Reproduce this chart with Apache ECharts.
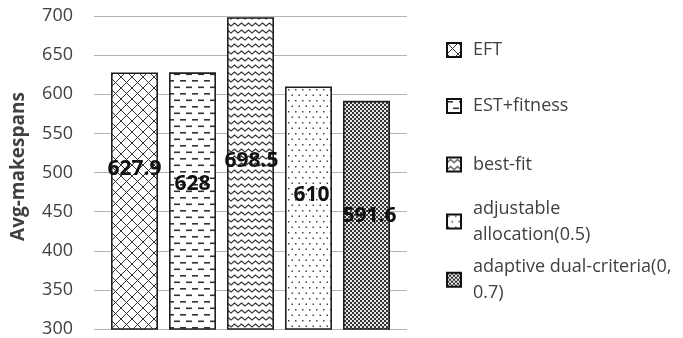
<!DOCTYPE html>
<html>
<head>
<meta charset="utf-8">
<script src="https://cdn.jsdelivr.net/npm/echarts@6/dist/echarts.min.js"></script>
<style>
  html, body { margin: 0; padding: 0; background: #fff; }
  #chart { width: 683px; height: 338px; }
</style>
</head>
<body>
<div id="chart"></div>
<script>
// Average makespan per scheduling strategy
const categories = ['EFT', 'EST+fitness', 'best-fit', 'adjustable allocation(0.5)', 'adaptive dual-criteria(0, 0.7)'];
const values = [627.9, 628, 698.5, 610, 591.6];
const legendLabels = ['EFT', 'EST+fitness', 'best-fit', 'adjustable\nallocation(0.5)', 'adaptive dual-criteria(0,\n0.7)'];
const yMin = 300, yMax = 700, yStep = 50;

// Styling: label nudges and legend rows (pixels)
const labelOffsets = [[0, -32], [0, -17], [1, -12], [3, -13], [3, 1]];
const legendCenters = [50, 106, 164.5, 221.5, 279.7];

// Canvas fill patterns for the bars
function tile(w, h, draw) {
  const c = document.createElement('canvas');
  c.width = w; c.height = h;
  const g = c.getContext('2d');
  g.fillStyle = '#fff';
  g.fillRect(0, 0, w, h);
  draw(g);
  return { image: c, repeat: 'repeat' };
}
const patterns = [
  // diamond cross-hatch
  tile(11, 11, g => {
    g.strokeStyle = '#333'; g.lineWidth = 1;
    g.beginPath();
    g.moveTo(-1, -1); g.lineTo(12, 12);
    g.moveTo(12, -1); g.lineTo(-1, 12);
    g.stroke();
  }),
  // staggered dashes
  tile(12, 13, g => {
    g.fillStyle = '#333';
    g.fillRect(0, 2, 6, 1.6);
    g.fillRect(6, 8.5, 6, 1.6);
  }),
  // zigzag waves
  tile(7, 7, g => {
    g.strokeStyle = '#333'; g.lineWidth = 1.2;
    g.beginPath();
    g.moveTo(-1, 5.3); g.lineTo(0, 5); g.lineTo(3.5, 2); g.lineTo(7, 5); g.lineTo(8, 5.3);
    g.stroke();
  }),
  // sparse dots
  tile(7, 11, g => {
    g.fillStyle = '#444';
    g.fillRect(1, 1, 1.5, 1.5);
    g.fillRect(4.5, 6.5, 1.5, 1.5);
  }),
  // fine checkerboard
  tile(4, 4, g => {
    g.fillStyle = '#e6e6e6'; g.fillRect(0, 0, 4, 4);
    g.fillStyle = '#333';
    g.fillRect(0, 0, 2, 2);
    g.fillRect(2, 2, 2, 2);
  })
];

const font = 'Open Sans';

const series = categories.map((name, i) => ({
  name: name,
  type: 'bar',
  data: [values[i]],
  barWidth: 47,
  barGap: '23.4%',
  itemStyle: { color: patterns[i], borderColor: '#1f1f1f', borderWidth: 1.6 },
  label: {
    show: true,
    position: 'inside',
    offset: labelOffsets[i],
    fontFamily: font,
    fontWeight: 'bold',
    fontSize: 21,
    color: '#111',
    textBorderWidth: 0
  },
  emphasis: { disabled: true },
  silent: true
}));

const legends = categories.map((name, i) => {
  const twoLines = legendLabels[i].indexOf('\n') >= 0;
  return {
    data: [name],
    left: 446,
    top: twoLines ? legendCenters[i] - 39 : legendCenters[i] - 13,
    orient: 'vertical',
    padding: 0,
    itemGap: 0,
    itemWidth: 14,
    itemHeight: 14,
    icon: 'rect',
    selectedMode: false,
    itemStyle: { borderColor: '#111', borderWidth: 2 },
    formatter: () => legendLabels[i],
    textStyle: {
      fontFamily: font,
      fontSize: 18,
      color: '#404040',
      lineHeight: 26,
      padding: twoLines ? [26, 0, 0, 7] : [0, 0, 0, 7]
    }
  };
});

const chart = echarts.init(document.getElementById('chart'), null, { renderer: 'canvas' });
chart.setOption({
  animation: false,
  backgroundColor: '#fff',
  legend: legends,
  grid: { left: 94, right: 276, top: 16, bottom: 8, containLabel: false },
  xAxis: {
    type: 'category',
    data: [''],
    axisLine: { show: false },
    axisTick: { show: false },
    axisLabel: { show: false }
  },
  yAxis: {
    type: 'value',
    min: yMin,
    max: yMax,
    interval: yStep,
    name: 'Avg-makespans',
    nameLocation: 'middle',
    nameGap: 66,
    nameRotate: 90,
    nameTextStyle: {
      fontFamily: font,
      fontWeight: 'bold',
      fontSize: 19,
      color: '#404040',
      padding: [0, 0, 0, 12]
    },
    axisLine: { show: false },
    axisTick: { show: false },
    axisLabel: { fontFamily: font, fontSize: 18, color: '#404040', margin: 21 },
    splitLine: { lineStyle: { color: '#b4b4b4', width: 1 } }
  },
  series: series
});
</script>
</body>
</html>
